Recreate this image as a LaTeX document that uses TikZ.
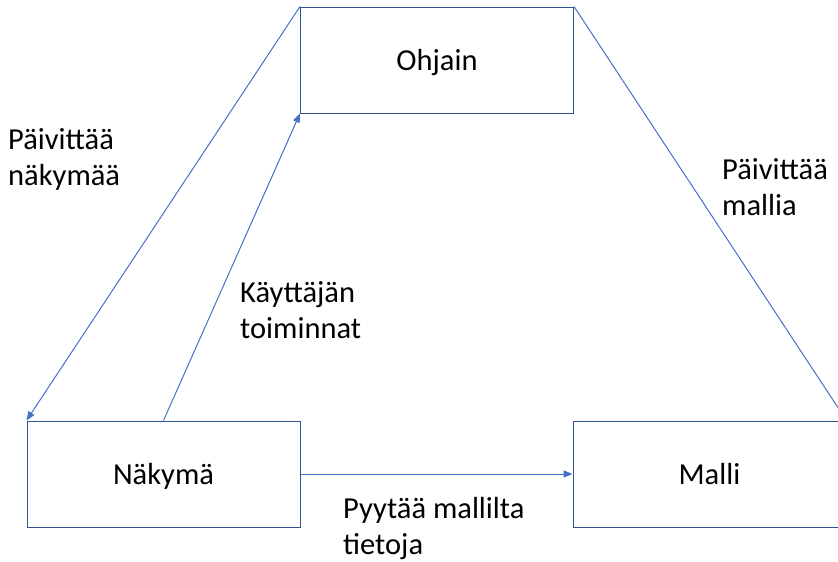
\documentclass[tikz,border=0pt]{standalone}
\usepackage{fontspec}
\setmainfont{Carlito}
\usetikzlibrary{arrows.meta}
\definecolor{linkblue}{HTML}{4472C4}
\definecolor{boxblue}{HTML}{2F528F}
\begin{document}
\begin{tikzpicture}[x=1pt,y=-1pt,
  box/.style={draw=boxblue,line width=1pt,minimum width=273pt,minimum height=106pt,inner sep=0pt,
    text height=20pt,text depth=0pt,font=\fontsize{30.5}{37}\selectfont},
  link/.style={draw=linkblue,line width=1pt,-{Triangle[length=9pt,width=7pt]}},
  % the base anchor of a two-line label sits on its last line
  lbl/.style={anchor=base west,align=left,inner sep=0pt,font=\fontsize{30.5}{36}\selectfont}]
\useasboundingbox (0,0) rectangle (838,562);
\clip (0,0) rectangle (838,562);
\node[box] (ohjain) at (437,60) {Ohjain};
\node[box] (nakyma) at (163.5,474) {Näkymä};
\node[box] (malli) at (709.5,474) {Malli};
\draw[link] (ohjain.north west) -- (nakyma.north west);
\draw[link] (nakyma.north) -- (ohjain.south west);
\draw[link] (ohjain.north east) -- (malli.north east);
\draw[link] (nakyma.east) -- (malli.west);
\node[lbl] (l1) at (8,185) {Päivittää\\näkymää};
\node[lbl] (l2) at (240,338) {Käyttäjän\\toiminnat};
\node[lbl] (l3) at (722,215) {Päivittää\\mallia};
\node[lbl] (l4) at (343,554) {Pyytää mallilta\\tietoja};
\end{tikzpicture}
\end{document}
